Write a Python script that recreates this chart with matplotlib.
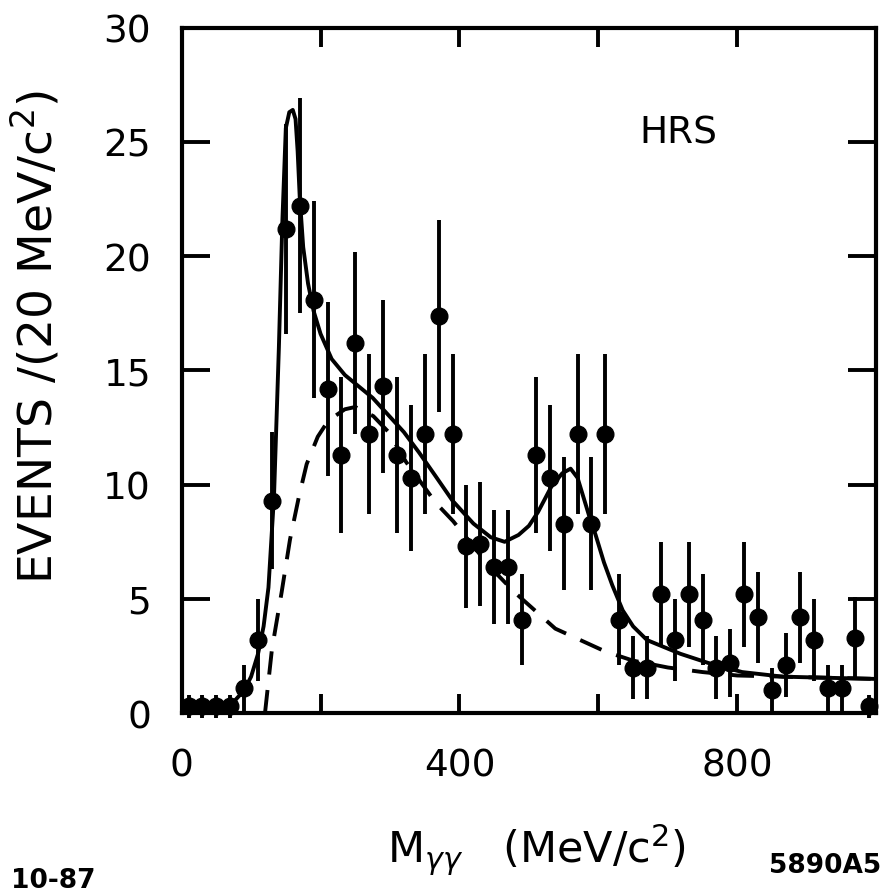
import matplotlib
matplotlib.use("Agg")
import matplotlib.pyplot as plt

# two-photon invariant mass spectrum, 20 MeV bins
bin_centres = [10, 30, 50, 70, 90, 110, 130, 150, 170, 190,
               210, 230, 250, 270, 290, 310, 330, 350, 370, 390,
               410, 430, 450, 470, 490, 510, 530, 550, 570, 590,
               610, 630, 650, 670, 690, 710, 730, 750, 770, 790,
               810, 830, 850, 870, 890, 910, 930, 950, 970, 990]
events = [0.3, 0.3, 0.3, 0.3, 1.1, 3.2, 9.3, 21.2, 22.2, 18.1,
          14.2, 11.3, 16.2, 12.2, 14.3, 11.3, 10.3, 12.2, 17.4, 12.2,
          7.3, 7.4, 6.4, 6.4, 4.1, 11.3, 10.3, 8.3, 12.2, 8.3,
          12.2, 4.1, 2.0, 2.0, 5.2, 3.2, 5.2, 4.1, 2.0, 2.2,
          5.2, 4.2, 1.0, 2.1, 4.2, 3.2, 1.1, 1.1, 3.3, 0.3]
errors = [0.5, 0.5, 0.5, 0.5, 1.0, 1.8, 3.0, 4.6, 4.7, 4.3,
          3.8, 3.4, 4.0, 3.5, 3.8, 3.4, 3.2, 3.5, 4.2, 3.5,
          2.7, 2.7, 2.5, 2.5, 2.0, 3.4, 3.2, 2.9, 3.5, 2.9,
          3.5, 2.0, 1.4, 1.4, 2.3, 1.8, 2.3, 2.0, 1.4, 1.5,
          2.3, 2.0, 1.0, 1.4, 2.0, 1.8, 1.0, 1.0, 1.8, 0.5]

# full fit (pi0 + eta + background)
fit_mass = [0, 40, 60, 75, 90, 100, 110, 118, 125, 133, 140, 145, 150, 155,
            160, 164, 167, 170, 175, 182, 190, 200, 216, 235, 255, 275, 293,
            320, 342, 365, 390, 420, 445, 465, 485, 500, 513, 532, 548, 560,
            570, 577, 587, 596, 608, 620, 635, 650, 670, 694, 718, 758, 807,
            865, 930, 1000]
fit_events = [0.05, 0.1, 0.25, 0.5, 1.0, 1.6, 2.6, 3.8, 5.5, 9.5, 16.0, 21.5,
              25.6, 26.3, 26.4, 26.0, 24.6, 22.6, 20.4, 18.8, 17.6, 16.6, 15.5,
              14.8, 14.3, 13.8, 13.2, 12.3, 11.4, 10.4, 9.3, 8.3, 7.7, 7.5,
              7.8, 8.2, 8.8, 9.9, 10.5, 10.7, 10.3, 9.6, 8.6, 7.8, 6.6, 5.6,
              4.5, 3.8, 3.2, 2.9, 2.6, 2.2, 1.8, 1.6, 1.55, 1.5]

# background only (dashed)
bg_mass = [120, 130, 144, 156, 169, 180, 196, 211, 235, 250, 276, 298, 323,
           366, 391, 444, 479, 538, 610, 650, 700, 750, 800, 865, 930, 1000]
bg_events = [0.0, 2.8, 5.3, 7.6, 9.5, 10.9, 12.1, 12.8, 13.3, 13.4, 13.0, 12.3,
             11.0, 9.2, 8.4, 6.4, 5.3, 3.7, 2.7, 2.3, 2.0, 1.8, 1.65, 1.6,
             1.55, 1.5]

fig = plt.figure(figsize=(8.86, 8.95), dpi=100)
ax = fig.add_axes([0.205, 0.202, 0.784, 0.766])

ax.plot(fit_mass, fit_events, color="black", lw=2.8, zorder=3)
ax.plot(bg_mass, bg_events, color="black", lw=2.8, dashes=(6, 4), zorder=3)
ax.errorbar(bin_centres, events, yerr=errors, fmt="o", color="black",
            markersize=12, elinewidth=2.8, capsize=0, zorder=4, clip_on=False)

ax.set_xlim(0, 1000)
ax.set_ylim(0, 30)
ax.set_xticks([0, 200, 400, 600, 800, 1000])
ax.set_xticklabels(["0", "", "400", "", "800", ""])
ax.set_yticks([0, 5, 10, 15, 20, 25, 30])
ax.tick_params(axis="x", direction="in", length=14, width=2.8, top=True,
               labelsize=27, pad=25)
ax.tick_params(axis="y", direction="in", length=20, width=2.8, right=True,
               labelsize=27, pad=22)
for sp in ax.spines.values():
    sp.set_linewidth(3)

ax.text(715, 25.4, "HRS", fontsize=27, ha="center", va="center")

fig.text(0.040, 1 - 337 / 895, "EVENTS /(20 MeV/c$^{2}$)", rotation=90,
         fontsize=34, ha="center", va="center")
fig.text(0.605, 1 - 850 / 895, r"M$_{\gamma\gamma}$   (MeV/c$^{2}$)",
         fontsize=31, ha="center", va="center")
fig.text(0.012, 1 - 881 / 895, "10-87", fontsize=19, fontweight="bold",
         ha="left", va="center")
fig.text(0.995, 1 - 866 / 895, "5890A5", fontsize=19, fontweight="bold",
         ha="right", va="center")

fig.savefig("out.png", dpi=100)
